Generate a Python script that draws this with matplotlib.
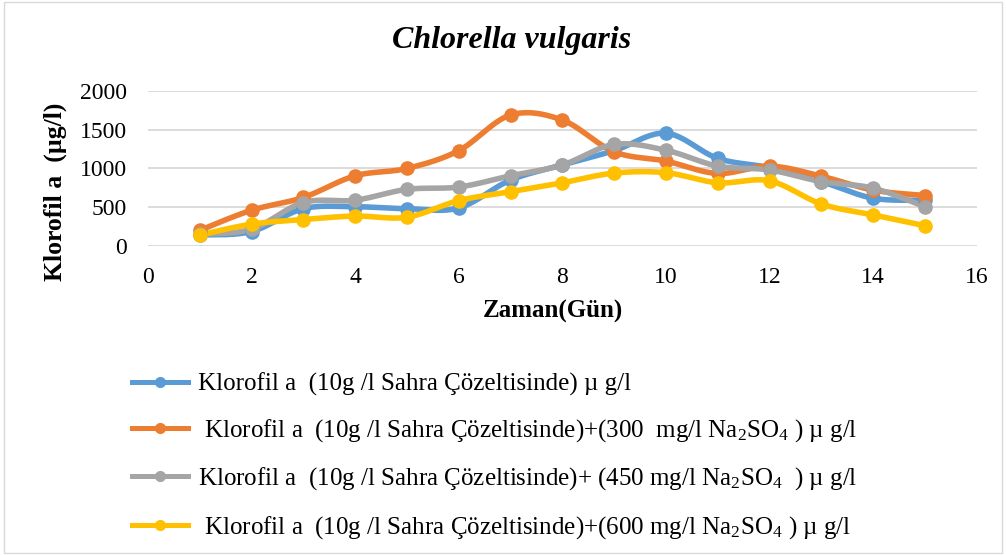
import numpy as np
import matplotlib
matplotlib.use("Agg")
import matplotlib.pyplot as plt
from matplotlib.lines import Line2D
from matplotlib.patches import Rectangle

plt.rcParams["font.family"] = ["Liberation Serif", "DejaVu Serif"]
plt.rcParams["mathtext.fontset"] = "custom"
plt.rcParams["mathtext.rm"] = "Liberation Serif"
plt.rcParams["mathtext.it"] = "Liberation Serif:italic"
plt.rcParams["mathtext.bf"] = "Liberation Serif:bold"

# Daily chlorophyll-a readings (µg/l)
days = [1, 2, 3, 4, 5, 6, 7, 8, 9, 10, 11, 12, 13, 14, 15]
sahra = [140, 185, 480, 505, 480, 490, 850, 1045, 1230, 1455, 1130, 1010, 830, 615, 590]
na2so4_300 = [200, 460, 625, 905, 1000, 1230, 1690, 1625, 1215, 1095, 935, 1030, 900, 720, 650]
na2so4_450 = [150, 215, 560, 590, 730, 760, 905, 1045, 1310, 1235, 1030, 980, 830, 745, 505]
na2so4_600 = [140, 280, 340, 385, 370, 585, 700, 815, 940, 945, 815, 840, 540, 400, 260]

labels = [
    "Klorofil a  (10g /l Sahra Çözeltisinde) µ g/l",
    " Klorofil a  (10g /l Sahra Çözeltisinde)+(300  mg/l Na$_\\mathrm{2}$SO$_\\mathrm{4}$ ) µ g/l",
    "Klorofil a  (10g /l Sahra Çözeltisinde)+ (450 mg/l Na$_\\mathrm{2}$SO$_\\mathrm{4}$  ) µ g/l",
    " Klorofil a  (10g /l Sahra Çözeltisinde)+(600 mg/l Na$_\\mathrm{2}$SO$_\\mathrm{4}$ ) µ g/l",
]
colors = ["#5B9BD5", "#ED7D31", "#A5A5A5", "#FFC000"]
series = [sahra, na2so4_300, na2so4_450, na2so4_600]


def smooth(x, y, steps=24):
    """Bezier smoothing through every point (spreadsheet-style smoothed line)."""
    x = np.asarray(x, float)
    y = np.asarray(y, float)
    px = np.concatenate([[x[0]], x, [x[-1]]])
    py = np.concatenate([[y[0]], y, [y[-1]]])
    t = np.linspace(0, 1, steps)[:, None]
    xs, ys = [], []
    for i in range(1, len(px) - 2):
        p0 = np.array([px[i - 1], py[i - 1]])
        p1 = np.array([px[i], py[i]])
        p2 = np.array([px[i + 1], py[i + 1]])
        p3 = np.array([px[i + 2], py[i + 2]])
        c1 = p1 + (p2 - p0) / 6
        c2 = p2 - (p3 - p1) / 6
        b = ((1 - t) ** 3) * p1 + 3 * ((1 - t) ** 2) * t * c1 + 3 * (1 - t) * t ** 2 * c2 + t ** 3 * p2
        xs.append(b[:, 0])
        ys.append(b[:, 1])
    return np.concatenate(xs), np.concatenate(ys)


fig = plt.figure(figsize=(10.06, 5.55), dpi=100)
ax = fig.add_axes([0.147, 0.557, 0.824, 0.279])

for vals, col in zip(series, colors):
    sx, sy = smooth(days, vals)
    ax.plot(sx, sy, color=col, linewidth=4, solid_capstyle="round", zorder=3)
    ax.plot(days, vals, linestyle="none", marker="o", markersize=9.5,
            color=col, zorder=4)

ax.set_xlim(0, 16)
ax.set_ylim(0, 2000)
ax.set_xticks(range(0, 17, 2))
ax.set_yticks(range(0, 2001, 500))
ax.tick_params(length=0, labelsize=17, colors="black")
ax.tick_params(axis="x", pad=15)
ax.tick_params(axis="y", pad=15)
ax.grid(axis="y", color="#D9D9D9", linewidth=1.3)
ax.set_axisbelow(True)
for s in ax.spines.values():
    s.set_visible(False)

ax.set_xlabel("Zaman(Gün)", fontsize=18, fontweight="bold")
ax.xaxis.set_label_coords(0.489, -0.35)
ax.set_ylabel("Klorofil a  (µg/l)", fontsize=18.5, fontweight="bold")
ax.yaxis.set_label_coords(-0.098, 0.35)

fig.text(0.509, 0.927, "Chlorella vulgaris", fontsize=23, style="italic",
         fontweight="bold", ha="center", va="center")

handles = [Line2D([], [], color=c, linewidth=3.6, marker="o", markersize=7)
           for c in colors]
fig.legend(handles, labels, loc="upper left", bbox_to_anchor=(0.131, 0.329),
           frameon=False, fontsize=18, handlelength=2.25, handletextpad=0.4,
           labelspacing=0.86, borderpad=0, borderaxespad=0)

# light chart-area border
fig.patches.append(Rectangle((0.004, 0.004), 0.992, 0.992, transform=fig.transFigure,
                             fill=False, edgecolor="#D9D9D9", linewidth=1))

fig.savefig("out.png", dpi=100)
